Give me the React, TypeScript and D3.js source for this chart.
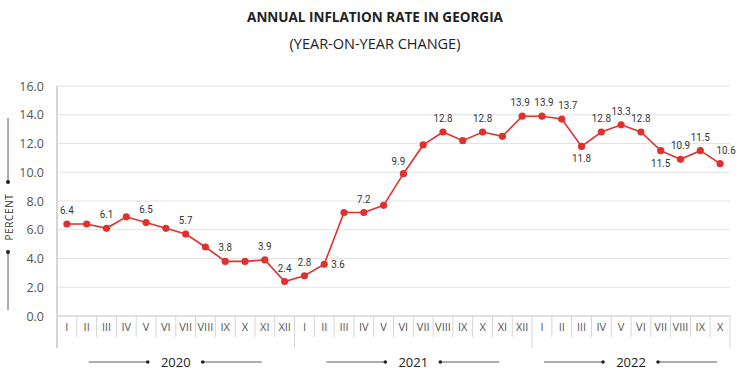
import React from "react";
import * as d3 from "d3";

const months2020 = ["I","II","III","IV","V","VI","VII","VIII","IX","X","XI","XII"];
const months2021 = ["I","II","III","IV","V","VI","VII","VIII","IX","X","XI","XII"];
const months2022 = ["I","II","III","IV","V","VI","VII","VIII","IX","X"];
const years = ["2020", "2021", "2022"];
const values2020 = [6.4, 6.4, 6.1, 6.9, 6.5, 6.1, 5.7, 4.8, 3.8, 3.8, 3.9, 2.4];
const values2021 = [2.8, 3.6, 7.2, 7.2, 7.7, 9.9, 11.9, 12.8, 12.2, 12.8, 12.5, 13.9];
const values2022 = [13.9, 13.7, 11.8, 12.8, 13.3, 12.8, 11.5, 10.9, 11.5, 10.6];
// label placement: "a" above, "b" below, "r" right, "al" above-left, "ar" above-right, "arr" further right, "" none
const labels2020 = ["a","","a","","a","","a","","a","","a","a"];
const labels2021 = ["a","r","","a","","all","","a","","a","","al"];
const labels2022 = ["ar","arr","b","a","a","a","b","a","a","arr"];
const yTicks = [0, 2, 4, 6, 8, 10, 12, 14, 16];

type Pt = { key: string; month: string; year: string; v: number; lab: string };

export default function App() {
  const W = 750, H = 375;
  const left = 57, right = 730, top = 86, bottom = 316;
  const groups = [
    { year: years[0], months: months2020, vals: values2020, labs: labels2020 },
    { year: years[1], months: months2021, vals: values2021, labs: labels2021 },
    { year: years[2], months: months2022, vals: values2022, labs: labels2022 },
  ];
  const pts: Pt[] = [];
  groups.forEach((g) =>
    g.months.forEach((m, i) =>
      pts.push({ key: g.year + "-" + i, month: m, year: g.year, v: g.vals[i], lab: g.labs[i] })
    )
  );
  const x = d3.scaleBand<string>().domain(pts.map((p) => p.key)).range([left, right]).padding(0);
  const y = d3.scaleLinear().domain([0, 16]).range([bottom, top]);
  const cx = (p: Pt) => (x(p.key) as number) + x.bandwidth() / 2;
  const line = d3.line<Pt>().x(cx).y((p) => y(p.v));
  const red = "#e0312f";
  const font = "'Open Sans', sans-serif";
  const labFont = "Roboto, sans-serif";

  let idx = 0;
  const yearInfo = groups.map((g) => {
    const start = idx;
    idx += g.months.length;
    const x0 = x(pts[start].key) as number;
    const x1 = (x(pts[idx - 1].key) as number) + x.bandwidth();
    return { year: g.year, x0, x1, c: (x0 + x1) / 2 };
  });

  return (
    <svg width={W} height={H} style={{ position: "absolute", left: 0, top: 0 }} fontFamily={font}>
      <rect width={W} height={H} fill="#fff" />
      <text x={W / 2} y={22} textAnchor="middle" fontSize={13.5} fontWeight="bold" fill="#222">
        ANNUAL INFLATION RATE IN GEORGIA
      </text>
      <text x={W / 2} y={49} textAnchor="middle" fontSize={14.5} fill="#222">
        (YEAR-ON-YEAR CHANGE)
      </text>

      {yTicks.map((t) => (
        <g key={t}>
          {t > 0 && <line x1={left} x2={right} y1={y(t)} y2={y(t)} stroke="#e3e3e3" strokeWidth={1} />}
          <text x={44} y={y(t) + 4.5} textAnchor="end" fontSize={12.5} fill="#555">
            {t.toFixed(1)}
          </text>
        </g>
      ))}

      <line x1={8} x2={8} y1={118} y2={182} stroke="#333" strokeWidth={0.8} />
      <circle cx={8} cy={182} r={2} fill="#222" />
      <line x1={8} x2={8} y1={252} y2={310} stroke="#333" strokeWidth={0.8} />
      <circle cx={8} cy={252} r={2} fill="#222" />
      <text transform={`translate(12.5,217) rotate(-90)`} textAnchor="middle" fontSize={10} fill="#333" letterSpacing={0.6}>
        PERCENT
      </text>

      <line x1={left} x2={right} y1={bottom} y2={bottom} stroke="#d6d6d6" strokeWidth={1.5} />
      <line x1={left} x2={left} y1={top} y2={348} stroke="#d6d6d6" strokeWidth={2} />
      {pts.map((p, i) =>
        i > 0 ? (
          <line key={"d" + p.key} x1={x(p.key) as number} x2={x(p.key) as number} y1={bottom} y2={p.month === "I" ? 348 : 337} stroke="#d6d6d6" strokeWidth={1} />
        ) : null
      )}
      <line x1={right} x2={right} y1={bottom} y2={348} stroke="#d6d6d6" strokeWidth={1} />
      {pts.map((p) => (
        <text key={"m" + p.key} x={cx(p)} y={331} textAnchor="middle" fontSize={11} fill="#555">
          {p.month}
        </text>
      ))}
      {yearInfo.map((yi) => (
        <g key={yi.year}>
          <text x={yi.c} y={367} textAnchor="middle" fontSize={13} fill="#222">{yi.year}</text>
          <line x1={yi.c - 87} x2={yi.c - 28} y1={362} y2={362} stroke="#333" strokeWidth={0.8} />
          <circle cx={yi.c - 28} cy={362} r={1.8} fill="#222" />
          <line x1={yi.c + 27} x2={yi.c + 86} y1={362} y2={362} stroke="#333" strokeWidth={0.8} />
          <circle cx={yi.c + 27} cy={362} r={1.8} fill="#222" />
        </g>
      ))}

      <path d={line(pts) || ""} fill="none" stroke={red} strokeWidth={1.6} />
      {pts.map((p) => (
        <circle key={"c" + p.key} cx={cx(p)} cy={y(p.v)} r={3.6} fill={red} />
      ))}
      {pts.map((p) => {
        if (!p.lab) return null;
        const s = p.v.toFixed(1);
        const tl = (s.length - 1) * 5.6 + 2.4;
        let lx = cx(p), ly = y(p.v) - 10, anchor = "middle";
        if (p.lab === "b") ly = y(p.v) + 16;
        if (p.lab === "r") { lx = cx(p) + 7; ly = y(p.v) + 4; anchor = "start"; }
        if (p.lab === "al") { lx = cx(p) - 2; }
        if (p.lab === "all") { lx = cx(p) - 5; ly = y(p.v) - 9; }
        if (p.lab === "ar") { lx = cx(p) + 2; }
        if (p.lab === "arr") { lx = cx(p) + 6; }
        return (
          <text key={"l" + p.key} x={lx} y={ly} textAnchor={anchor} fontSize={11.5} fill="#333" fontFamily={labFont}
            textLength={tl} lengthAdjust="spacingAndGlyphs">
            {s}
          </text>
        );
      })}
    </svg>
  );
}
